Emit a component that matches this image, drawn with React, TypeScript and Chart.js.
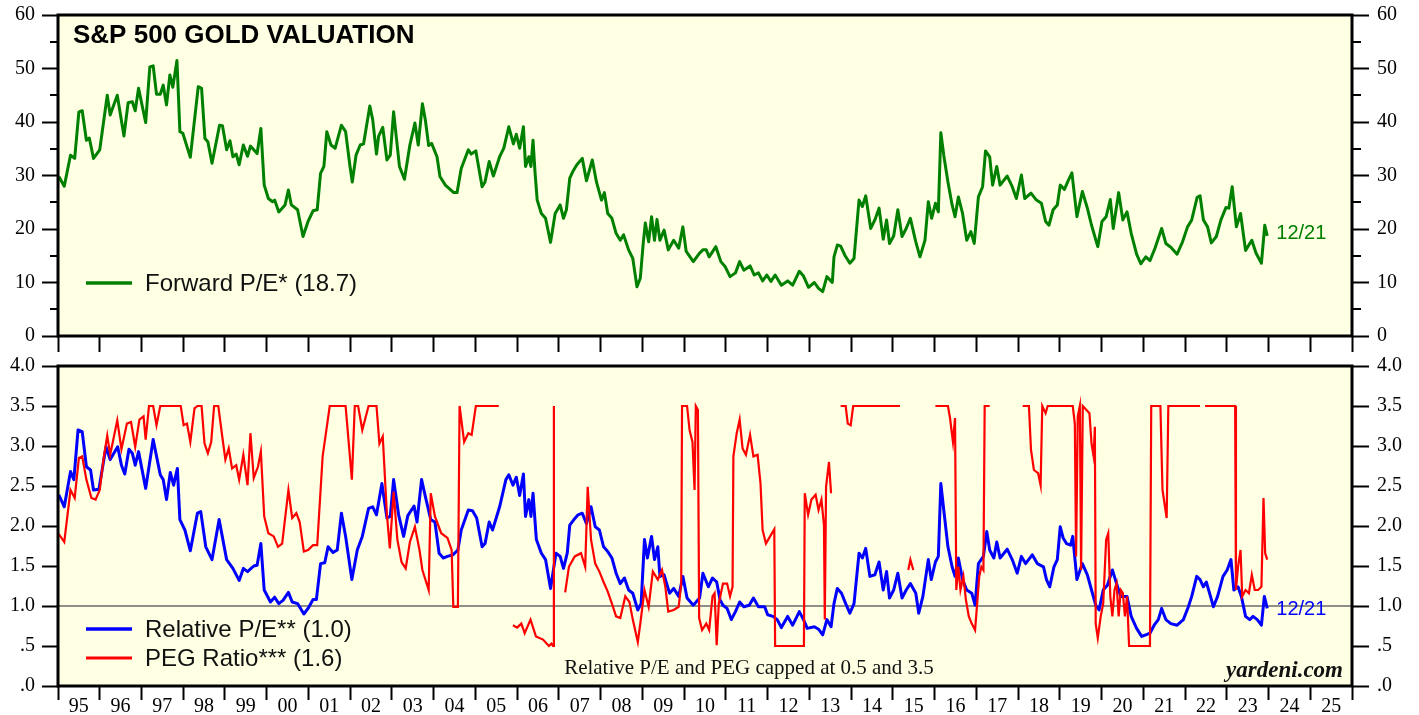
import React, { useEffect, useRef } from 'react';
import { Chart, registerables } from 'chart.js';

Chart.register(...registerables);

// ---------- DATA ----------
const yearLabels = ['95','96','97','98','99','00','01','02','03','04','05','06','07','08','09','10','11','12','13','14','15','16','17','18','19','20','21','22','23','24','25'];
const peTickLabels = ['0','10','20','30','40','50','60'];
const relTickLabels = ['.0','.5','1.0','1.5','2.0','2.5','3.0','3.5','4.0'];

const titleText = 'S&P 500 GOLD VALUATION';
const forwardLegend = 'Forward P/E* (18.7)';
const relativeLegend = 'Relative P/E** (1.0)';
const pegLegend = 'PEG Ratio*** (1.6)';
const noteText = 'Relative P/E and PEG capped at 0.5 and 3.5';
const sourceText = 'yardeni.com';
const lastDateLabel = '12/21';
const referenceLevel = 1.0;

const forwardPE: [number, number][] = [
[1995.02,29.8],[1995.15,28.0],[1995.30,33.8],[1995.40,33.2],[1995.50,41.9],[1995.58,42.1],[1995.68,36.6],[1995.75,37.0],[1995.85,33.2],[1996.00,34.8],
[1996.18,45.0],[1996.25,41.3],[1996.42,45.0],[1996.58,37.4],[1996.68,43.6],[1996.78,43.8],[1996.85,42.1],[1996.93,46.3],
[1997.10,39.9],[1997.20,50.3],[1997.28,50.5],[1997.36,45.2],[1997.45,45.2],[1997.52,46.9],[1997.60,43.2],[1997.68,48.8],[1997.75,46.5],[1997.85,51.5],[1997.92,38.2],[1997.99,37.9],
[1998.17,33.4],[1998.36,46.6],[1998.44,46.3],[1998.52,36.9],[1998.59,36.3],[1998.69,32.3],[1998.87,39.4],[1998.94,39.3],
[1999.04,34.8],[1999.12,36.5],[1999.19,33.5],[1999.27,34.0],[1999.34,32.0],[1999.44,35.7],[1999.54,33.6],[1999.61,35.5],[1999.77,34.1],[1999.86,38.8],[1999.94,28.2],
[2000.04,25.7],[2000.14,25.1],[2000.19,25.4],[2000.29,23.2],[2000.44,24.5],[2000.52,27.3],[2000.59,24.5],[2000.74,23.6],[2000.87,18.6],[2000.99,21.4],
[2001.11,23.4],[2001.21,23.6],[2001.29,30.4],[2001.37,31.7],[2001.44,38.2],[2001.54,35.7],[2001.64,35.1],[2001.79,39.4],[2001.89,38.2],[2001.99,32.0],
[2002.05,28.8],[2002.14,33.8],[2002.24,35.7],[2002.32,35.9],[2002.47,43.0],[2002.54,40.4],[2002.63,34.0],[2002.68,37.3],[2002.78,39.0],[2002.88,32.9],[2002.96,33.8],
[2003.04,41.9],[2003.18,31.7],[2003.30,29.3],[2003.43,35.7],[2003.55,39.8],[2003.63,35.7],[2003.73,43.4],[2003.80,40.4],[2003.88,35.6],[2003.95,36.0],
[2004.08,33.5],[2004.15,29.8],[2004.28,28.2],[2004.48,26.8],[2004.56,26.8],[2004.66,31.3],[2004.83,34.8],[2004.90,34.0],
[2005.01,34.6],[2005.16,27.9],[2005.23,28.8],[2005.33,32.6],[2005.43,29.9],[2005.58,33.5],[2005.68,35.1],[2005.80,39.1],[2005.91,35.9],[2005.98,37.7],
[2006.06,35.1],[2006.15,39.1],[2006.20,31.7],[2006.28,33.5],[2006.33,31.7],[2006.38,36.6],[2006.43,30.4],[2006.48,25.4],[2006.58,22.9],[2006.68,22.0],[2006.80,17.5],[2006.91,22.9],
[2007.03,24.5],[2007.11,22.0],[2007.18,23.6],[2007.26,29.5],[2007.33,30.7],[2007.43,32.0],[2007.56,33.2],[2007.66,29.0],[2007.80,32.9],[2007.90,28.8],
[2008.02,25.4],[2008.09,26.8],[2008.17,22.9],[2008.27,22.0],[2008.37,19.2],[2008.47,17.9],[2008.55,18.9],[2008.67,16.1],[2008.77,14.5],[2008.87,9.2],[2008.95,10.8],
[2009.02,17.3],[2009.07,21.1],[2009.15,17.6],[2009.22,22.3],[2009.29,17.9],[2009.35,21.8],[2009.42,17.9],[2009.52,19.8],[2009.62,16.1],[2009.75,17.9],[2009.87,16.4],[2009.97,20.4],
[2010.05,15.8],[2010.22,13.9],[2010.37,15.5],[2010.45,16.1],[2010.53,16.1],[2010.60,14.8],[2010.76,16.7],[2010.88,13.9],[2010.98,13.0],
[2011.10,11.1],[2011.23,11.8],[2011.33,13.9],[2011.43,12.3],[2011.58,13.1],[2011.68,11.4],[2011.78,11.8],[2011.88,10.3],[2011.98,11.4],
[2012.08,10.2],[2012.18,11.4],[2012.33,9.5],[2012.48,10.3],[2012.60,9.5],[2012.76,12.1],[2012.86,11.2],[2012.98,9.1],
[2013.12,10.0],[2013.22,8.9],[2013.32,8.3],[2013.42,11.1],[2013.55,10.0],[2013.59,14.8],[2013.67,17.0],[2013.75,16.8],[2013.85,15.1],[2013.97,13.6],
[2014.07,14.5],[2014.19,25.4],[2014.27,24.2],[2014.35,26.2],[2014.47,20.1],[2014.57,21.7],[2014.67,23.9],[2014.77,18.1],[2014.85,21.7],[2014.92,17.3],
[2015.02,18.7],[2015.12,23.6],[2015.22,18.6],[2015.32,20.1],[2015.42,22.0],[2015.55,17.6],[2015.65,14.8],[2015.77,17.9],[2015.85,25.1],[2015.93,22.0],
[2016.02,24.8],[2016.09,23.2],[2016.15,38.0],[2016.22,33.8],[2016.32,28.8],[2016.42,24.5],[2016.49,22.3],[2016.57,26.0],[2016.67,22.9],[2016.77,17.9],[2016.87,19.5],[2016.95,17.3],
[2017.05,26.0],[2017.15,27.9],[2017.22,34.6],[2017.32,33.5],[2017.39,28.2],[2017.49,31.7],[2017.57,28.2],[2017.74,29.9],[2017.86,27.9],[2017.96,25.7],
[2018.08,30.1],[2018.16,25.7],[2018.31,26.7],[2018.44,25.4],[2018.56,24.8],[2018.66,21.4],[2018.74,20.7],[2018.84,23.6],[2018.94,24.5],
[2019.01,28.2],[2019.11,27.4],[2019.21,29.2],[2019.29,30.5],[2019.41,22.3],[2019.54,27.0],[2019.66,23.9],[2019.76,20.7],[2019.91,16.7],
[2020.01,21.4],[2020.11,22.3],[2020.21,25.5],[2020.28,20.1],[2020.41,26.8],[2020.51,21.7],[2020.61,23.2],[2020.71,19.2],[2020.84,15.3],[2020.94,13.5],
[2021.06,14.8],[2021.16,14.1],[2021.28,16.4],[2021.44,20.1],[2021.54,17.3],[2021.66,16.6],[2021.81,15.3],[2021.94,17.6],
[2022.06,20.4],[2022.16,21.7],[2022.29,25.9],[2022.36,26.2],[2022.44,21.7],[2022.54,20.4],[2022.63,17.4],[2022.75,18.6],[2022.86,21.7],[2022.98,24.0],
[2023.05,23.9],[2023.13,27.9],[2023.23,20.4],[2023.33,22.9],[2023.45,16.0],[2023.60,17.9],[2023.70,15.5],[2023.83,13.6],[2023.91,20.7],[2023.97,18.7]
];

const relativePE: [number, number][] = [
[1995.02,2.39],[1995.15,2.24],[1995.30,2.68],[1995.38,2.58],[1995.48,3.20],[1995.58,3.18],[1995.68,2.74],[1995.78,2.70],[1995.85,2.45],[1995.98,2.46],
[1996.15,2.99],[1996.25,2.83],[1996.43,2.99],[1996.52,2.76],[1996.60,2.65],[1996.70,2.96],[1996.78,2.91],[1996.85,2.76],[1996.93,2.93],
[1997.10,2.47],[1997.28,3.08],[1997.45,2.64],[1997.52,2.58],[1997.60,2.33],[1997.69,2.67],[1997.77,2.51],[1997.86,2.72],[1997.92,2.08],
[1998.04,1.95],[1998.17,1.69],[1998.34,2.16],[1998.42,2.18],[1998.54,1.74],[1998.69,1.58],[1998.86,2.08],
[1999.04,1.58],[1999.19,1.47],[1999.34,1.32],[1999.44,1.47],[1999.54,1.43],[1999.69,1.50],[1999.77,1.51],[1999.86,1.78],[1999.94,1.20],
[2000.09,1.05],[2000.19,1.11],[2000.29,1.03],[2000.39,1.07],[2000.52,1.17],[2000.61,1.05],[2000.74,1.03],[2000.89,0.90],[2000.99,0.97],
[2001.11,1.08],[2001.19,1.08],[2001.29,1.53],[2001.39,1.54],[2001.47,1.74],[2001.59,1.67],[2001.69,1.70],[2001.79,2.16],[2001.89,1.87],
[2002.04,1.33],[2002.17,1.70],[2002.29,1.87],[2002.44,2.22],[2002.54,2.24],[2002.63,2.14],[2002.76,2.53],[2002.88,2.10],[2002.96,2.12],
[2003.04,2.58],[2003.16,2.14],[2003.28,1.87],[2003.38,2.13],[2003.53,2.25],[2003.60,2.05],[2003.71,2.58],[2003.80,2.37],[2003.93,2.08],
[2004.03,2.05],[2004.13,1.66],[2004.23,1.60],[2004.33,1.62],[2004.46,1.64],[2004.58,1.70],[2004.66,1.95],[2004.83,2.20],[2004.93,2.19],
[2005.03,2.10],[2005.16,1.74],[2005.23,1.78],[2005.33,2.05],[2005.41,1.95],[2005.58,2.24],[2005.73,2.58],[2005.80,2.64],[2005.90,2.51],[2005.98,2.61],
[2006.06,2.38],[2006.15,2.65],[2006.20,2.12],[2006.28,2.33],[2006.33,2.12],[2006.38,2.41],[2006.46,1.83],[2006.58,1.66],[2006.68,1.58],[2006.80,1.22],[2006.93,1.66],
[2007.03,1.62],[2007.11,1.47],[2007.20,1.66],[2007.26,2.01],[2007.36,2.08],[2007.46,2.14],[2007.56,2.16],[2007.66,2.03],[2007.77,2.24],[2007.87,1.99],[2007.97,1.95],
[2008.07,1.74],[2008.17,1.68],[2008.27,1.60],[2008.37,1.41],[2008.47,1.28],[2008.57,1.35],[2008.67,1.20],[2008.77,1.16],[2008.89,0.95],[2008.97,1.03],
[2009.05,1.83],[2009.12,1.60],[2009.22,1.87],[2009.29,1.58],[2009.37,1.74],[2009.42,1.37],[2009.52,1.39],[2009.65,1.16],[2009.75,1.22],[2009.87,1.12],[2009.97,1.37],
[2010.07,1.10],[2010.22,1.01],[2010.37,1.10],[2010.45,1.41],[2010.58,1.24],[2010.68,1.35],[2010.78,1.30],[2010.86,1.08],[2010.93,1.01],
[2011.03,0.97],[2011.13,0.83],[2011.23,0.93],[2011.33,1.05],[2011.43,0.99],[2011.56,1.01],[2011.66,1.10],[2011.78,0.99],[2011.93,0.99],
[2012.00,0.89],[2012.13,0.87],[2012.23,0.83],[2012.33,0.73],[2012.48,0.87],[2012.60,0.76],[2012.76,0.93],[2012.86,0.83],[2012.95,0.72],
[2013.12,0.74],[2013.22,0.71],[2013.32,0.64],[2013.42,0.83],[2013.52,0.74],[2013.59,1.03],[2013.67,1.22],[2013.77,1.16],[2013.87,1.03],[2013.97,0.91],
[2014.07,1.03],[2014.19,1.66],[2014.27,1.60],[2014.35,1.72],[2014.45,1.37],[2014.57,1.39],[2014.67,1.55],[2014.77,1.20],[2014.85,1.43],[2014.92,1.10],
[2015.02,1.20],[2015.12,1.41],[2015.22,1.10],[2015.32,1.20],[2015.42,1.28],[2015.55,1.16],[2015.62,0.91],[2015.72,1.12],[2015.85,1.58],[2015.92,1.33],
[2016.02,1.55],[2016.09,1.62],[2016.15,2.53],[2016.22,2.20],[2016.32,1.74],[2016.42,1.49],[2016.49,1.37],[2016.57,1.60],[2016.67,1.33],[2016.77,1.20],[2016.89,1.16],[2016.97,1.01],
[2017.05,1.53],[2017.17,1.62],[2017.25,1.93],[2017.32,1.70],[2017.42,1.60],[2017.49,1.80],[2017.57,1.60],[2017.74,1.71],[2017.86,1.58],[2017.98,1.41],
[2018.08,1.62],[2018.18,1.53],[2018.34,1.64],[2018.46,1.53],[2018.61,1.49],[2018.68,1.33],[2018.76,1.24],[2018.86,1.49],[2018.94,1.58],
[2019.01,1.99],[2019.08,1.85],[2019.16,1.78],[2019.26,1.76],[2019.31,1.87],[2019.41,1.33],[2019.54,1.53],[2019.66,1.39],[2019.76,1.20],[2019.86,1.01],[2019.94,0.95],
[2020.04,1.20],[2020.14,1.26],[2020.26,1.45],[2020.36,1.28],[2020.46,1.12],[2020.61,1.12],[2020.71,0.87],[2020.84,0.72],[2020.96,0.62],
[2021.06,0.64],[2021.16,0.66],[2021.26,0.76],[2021.36,0.83],[2021.44,0.97],[2021.54,0.83],[2021.66,0.78],[2021.81,0.76],[2021.96,0.83],
[2022.08,0.99],[2022.16,1.12],[2022.28,1.37],[2022.36,1.33],[2022.44,1.24],[2022.51,1.30],[2022.61,1.12],[2022.68,0.99],[2022.78,1.12],[2022.91,1.37],
[2023.01,1.45],[2023.10,1.58],[2023.17,1.20],[2023.27,1.24],[2023.35,1.12],[2023.45,0.87],[2023.55,0.83],[2023.63,0.87],[2023.73,0.83],[2023.83,0.76],[2023.90,1.12],[2023.97,0.97]
];

const pegRatio: [number, number | null][] = [
[1995.02,1.90],[1995.15,1.80],[1995.30,2.45],[1995.40,2.35],[1995.50,2.85],[1995.58,2.87],[1995.68,2.58],[1995.80,2.35],[1995.90,2.33],[1996.00,2.45],
[1996.10,2.87],[1996.18,3.13],[1996.25,2.89],[1996.42,3.32],[1996.52,2.96],[1996.65,3.28],[1996.75,3.30],[1996.85,2.99],[1996.95,3.33],
[1997.05,3.37],[1997.10,3.08],[1997.18,3.5],[1997.28,3.5],[1997.36,3.26],[1997.45,3.5],[1997.94,3.5],
[1998.01,3.26],[1998.09,3.28],[1998.17,3.05],[1998.27,3.47],[1998.34,3.5],[1998.44,3.5],[1998.51,3.03],[1998.59,2.91],[1998.67,3.05],[1998.74,3.5],[1998.84,3.5],[1998.94,3.10],
[1999.01,2.83],[1999.09,2.97],[1999.17,2.72],[1999.27,2.76],[1999.34,2.58],[1999.44,2.89],[1999.54,2.51],[1999.61,3.16],[1999.69,2.60],[1999.79,2.74],[1999.86,2.93],[1999.94,2.12],
[2000.04,1.91],[2000.17,1.87],[2000.27,1.74],[2000.37,1.78],[2000.52,2.45],[2000.61,2.10],[2000.71,2.16],[2000.79,2.05],[2000.89,1.68],[2000.99,1.70],
[2001.11,1.76],[2001.21,1.76],[2001.34,2.87],[2001.51,3.5],[2001.89,3.5],
[2002.04,2.58],[2002.11,3.5],[2002.19,3.5],[2002.29,3.20],[2002.44,3.5],[2002.63,3.5],[2002.70,3.03],[2002.78,3.12],[2002.88,2.14],[2002.95,1.72],
[2003.04,2.43],[2003.13,1.83],[2003.23,1.55],[2003.33,1.47],[2003.43,1.80],[2003.55,1.99],[2003.66,1.70],[2003.73,1.45],[2003.88,1.20],[2003.93,2.41],
[2004.03,2.12],[2004.08,2.05],[2004.18,1.91],[2004.33,1.85],[2004.43,1.70],[2004.47,0.99],[2004.58,0.99],[2004.62,3.5],[2004.73,3.05],[2004.83,3.16],[2004.91,3.14],
[2005.01,3.5],[2005.56,3.5],[2005.70,null],
[2005.90,0.76],[2006.00,0.73],[2006.10,0.78],[2006.18,0.66],[2006.32,0.83],[2006.45,0.62],[2006.62,0.58],[2006.76,0.5],[2006.82,0.53],[2006.86,0.5],[2006.88,3.5],[2006.95,null],
[2007.15,1.17],[2007.24,1.49],[2007.38,1.62],[2007.53,1.66],[2007.63,1.49],[2007.69,2.49],[2007.77,1.83],[2007.87,1.53],[2007.97,1.43],
[2008.07,1.30],[2008.17,1.18],[2008.27,1.03],[2008.37,0.87],[2008.47,0.85],[2008.59,1.12],[2008.69,1.05],[2008.77,0.83],[2008.89,0.55],[2008.95,0.78],
[2009.05,1.20],[2009.15,0.99],[2009.25,1.43],[2009.37,1.33],[2009.47,1.45],[2009.55,1.24],[2009.62,0.93],[2009.75,0.95],[2009.87,0.99],[2009.93,1.28],[2009.95,3.5],[2010.07,3.5],[2010.13,3.2],[2010.20,3.05],[2010.25,2.45],[2010.28,3.5],[2010.33,3.45],[2010.36,0.85],
[2010.43,0.70],[2010.53,0.78],[2010.60,0.70],[2010.68,1.12],[2010.73,1.16],[2010.78,0.51],[2010.83,1.03],[2010.93,1.28],[2011.03,1.28],[2011.10,1.12],[2011.16,1.24],[2011.18,2.87],[2011.26,3.16],[2011.33,3.33],[2011.40,2.97],[2011.48,2.89],[2011.58,3.14],[2011.66,2.87],[2011.76,2.89],[2011.83,2.53],[2011.88,1.95],[2011.96,1.78],
[2012.06,1.87],[2012.16,1.96],[2012.18,0.5],[2012.87,0.5],[2012.89,2.41],[2012.97,2.14],[2013.05,2.33],[2013.15,2.39],[2013.22,2.20],[2013.29,2.33],[2013.35,2.01],[2013.37,0.83],[2013.40,2.49],[2013.47,2.80],[2013.52,2.41],[2013.60,null],
[2013.75,3.5],[2013.87,3.5],[2013.92,3.28],[2013.99,3.26],[2014.05,3.5],[2015.17,3.5],[2015.25,null],
[2015.37,1.45],[2015.42,1.58],[2015.49,1.45],[2015.60,null],
[2016.02,3.5],[2016.32,3.5],[2016.37,3.35],[2016.44,3.05],[2016.49,3.35],[2016.52,1.20],[2016.57,1.49],[2016.62,1.20],[2016.69,1.37],[2016.75,1.08],[2016.82,0.87],[2016.89,0.78],[2016.97,0.70],[2017.02,1.03],[2017.07,1.37],[2017.12,1.49],[2017.17,1.45],[2017.20,3.5],[2017.32,3.5],[2017.50,null],
[2018.11,3.5],[2018.26,3.5],[2018.31,2.95],[2018.38,2.70],[2018.48,2.66],[2018.54,2.51],[2018.58,3.5],[2018.66,3.41],[2018.71,3.5],[2019.31,3.5],[2019.36,3.28],[2019.39,1.62],[2019.43,3.37],[2019.48,3.5],[2019.51,1.45],[2019.55,3.5],[2019.71,3.41],[2019.76,3.03],[2019.81,2.87],[2019.84,3.24],[2019.86,0.78],[2019.91,0.60],[2019.98,0.87],
[2020.04,1.03],[2020.11,1.83],[2020.16,1.91],[2020.21,1.12],[2020.26,0.87],[2020.31,1.20],[2020.36,1.28],[2020.41,0.87],[2020.46,1.20],[2020.51,1.16],[2020.56,0.87],[2020.61,1.12],[2020.66,0.5],[2021.16,0.5],[2021.19,3.5],[2021.41,3.5],[2021.46,2.45],[2021.56,2.10],[2021.60,3.5],[2022.36,3.5],[2022.42,null],[2022.48,3.5],[2023.20,3.5],
[2023.22,1.20],[2023.27,1.49],[2023.33,1.70],[2023.37,1.12],[2023.45,1.20],[2023.53,1.16],[2023.60,1.39],[2023.67,1.20],[2023.75,1.20],[2023.83,1.24],[2023.88,2.35],[2023.92,1.66],[2023.97,1.58]
];

// ---------- STYLE ----------
const GREEN = '#008000';
const BLUE = '#0000ff';
const RED = '#ff0000';
const PANEL_BG = '#ffffe3';
const SERIF = '"Liberation Serif", "Times New Roman", serif';
const SANS = '"Liberation Sans", Arial, sans-serif';
const X_MIN = 1995;
const X_MAX = 2026;

const toXY = (arr: [number, number | null][]) => arr.map(([x, y]) => ({ x, y }));

const clearPadding = (scale: any) => {
  scale.paddingTop = 0;
  scale.paddingBottom = 0;
  scale.paddingLeft = 0;
  scale.paddingRight = 0;
};

function xAxis(showLabels: boolean, tickLength: number, height: number) {
  return {
    type: 'linear',
    position: 'bottom',
    min: X_MIN,
    max: X_MAX,
    afterBuildTicks: (scale: any) => {
      const t: any[] = [];
      for (let i = 0; i <= (X_MAX - X_MIN) * 2; i++) t.push({ value: X_MIN + i / 2 });
      scale.ticks = t;
    },
    grid: {
      display: true,
      drawOnChartArea: false,
      drawTicks: true,
      tickLength,
      tickWidth: 2,
      tickColor: (c: any) => (c.tick && Number.isInteger(c.tick.value) ? '#000' : 'rgba(0,0,0,0)'),
    },
    border: { display: false },
    ticks: {
      display: showLabels,
      autoSkip: false,
      maxRotation: 0,
      minRotation: 0,
      padding: -5,
      color: '#000',
      font: { family: SERIF, size: 20 },
      callback: (v: number) => (Number.isInteger(v) ? '' : yearLabels[Math.floor(v) - X_MIN] || ''),
    },
    afterFit: (scale: any) => { scale.height = height; clearPadding(scale); },
  };
}

function yAxis(position: 'left' | 'right', min: number, max: number, step: number, label: (v: number) => string, isMajor: (v: number) => boolean) {
  const left = position === 'left';
  return {
    type: 'linear',
    position,
    min,
    max,
    afterBuildTicks: (scale: any) => {
      const t: any[] = [];
      const n = Math.round((max - min) / step);
      for (let i = 0; i <= n; i++) t.push({ value: min + i * step });
      scale.ticks = t;
    },
    grid: {
      display: true,
      drawOnChartArea: false,
      drawTicks: true,
      tickLength: left ? 16 : 17,
      tickWidth: 2,
      tickColor: (c: any) => (c.tick && isMajor(c.tick.value) ? '#000' : 'rgba(0,0,0,0)'),
    },
    border: { display: false },
    ticks: {
      padding: left ? 7 : 8,
      color: '#000',
      autoSkip: false,
      font: { family: SERIF, size: 20 },
      callback: (v: number) => label(v),
    },
    afterFit: (scale: any) => { scale.width = left ? 58 : 67; clearPadding(scale); },
  };
}

function framePlugin(minorValues: number[], drawText: (chart: any, ctx: CanvasRenderingContext2D) => void) {
  return {
    id: 'frame',
    beforeDraw(chart: any) {
      const { ctx, chartArea: a } = chart;
      ctx.save();
      ctx.fillStyle = PANEL_BG;
      ctx.fillRect(a.left, a.top, a.right - a.left, a.bottom - a.top);
      ctx.restore();
    },
    afterDraw(chart: any) {
      const { ctx, chartArea: a } = chart;
      const ys = chart.scales.y;
      ctx.save();
      ctx.strokeStyle = '#000';
      ctx.lineWidth = 2;
      ctx.beginPath();
      minorValues.forEach((v) => {
        const py = Math.round(ys.getPixelForValue(v));
        ctx.moveTo(a.left - 8, py); ctx.lineTo(a.left, py);
        ctx.moveTo(a.right, py); ctx.lineTo(a.right + 9, py);
      });
      ctx.stroke();
      ctx.lineWidth = 3;
      ctx.strokeRect(a.left, a.top, a.right - a.left, a.bottom - a.top);
      ctx.restore();
      ctx.save();
      drawText(chart, ctx);
      ctx.restore();
    },
  };
}

function legendItem(ctx: CanvasRenderingContext2D, a: any, y: number, color: string, width: number, text: string) {
  ctx.strokeStyle = color;
  ctx.lineWidth = width;
  ctx.beginPath();
  ctx.moveTo(a.left + 28, y);
  ctx.lineTo(a.left + 74, y);
  ctx.stroke();
  ctx.fillStyle = '#111';
  ctx.font = `24px ${SANS}`;
  ctx.textAlign = 'left';
  ctx.textBaseline = 'middle';
  ctx.fillText(text, a.left + 87, y + 1);
}

export default function App() {
  const topRef = useRef<HTMLCanvasElement>(null);
  const botRef = useRef<HTMLCanvasElement>(null);

  useEffect(() => {
    const lastPE = forwardPE[forwardPE.length - 1];
    const lastRel = relativePE[relativePE.length - 1];

    const topChart = new Chart(topRef.current as HTMLCanvasElement, {
      type: 'line',
      data: {
        datasets: [
          {
            label: forwardLegend,
            data: toXY(forwardPE),
            borderColor: GREEN,
            borderWidth: 3,
            pointRadius: 0,
            tension: 0,
            borderJoinStyle: 'round',
          },
        ],
      },
      options: {
        animation: false,
        responsive: false,
        devicePixelRatio: 1,
        layout: { autoPadding: false, padding: { top: 15, left: 0, right: 0, bottom: 0 } },
        plugins: { legend: { display: false }, tooltip: { enabled: false } },
        scales: {
          x: xAxis(false, 16, 24),
          y: yAxis('left', 0, 60, 5, (v) => (v % 10 === 0 ? peTickLabels[v / 10] : ''), (v) => v % 10 === 0),
          y2: yAxis('right', 0, 60, 5, (v) => (v % 10 === 0 ? peTickLabels[v / 10] : ''), (v) => v % 10 === 0),
        },
      } as any,
      plugins: [
        framePlugin([5, 15, 25, 35, 45, 55], (chart, ctx) => {
          const a = chart.chartArea;
          ctx.fillStyle = '#000';
          ctx.font = `bold 26px ${SANS}`;
          ctx.textAlign = 'left';
          ctx.textBaseline = 'alphabetic';
          ctx.fillText(titleText, a.left + 15, a.top + 28);
          legendItem(ctx, a, a.bottom - 53, GREEN, 3.5, forwardLegend);
          const px = chart.scales.x.getPixelForValue(lastPE[0]);
          const py = chart.scales.y.getPixelForValue(lastPE[1]);
          ctx.fillStyle = GREEN;
          ctx.font = `20px ${SANS}`;
          ctx.textBaseline = 'middle';
          ctx.fillText(lastDateLabel, px + 9, py - 2);
        }),
      ] as any,
    } as any);

    const botChart = new Chart(botRef.current as HTMLCanvasElement, {
      type: 'line',
      data: {
        datasets: [
          {
            label: pegLegend,
            data: toXY(pegRatio),
            borderColor: RED,
            borderWidth: 2.2,
            pointRadius: 0,
            tension: 0,
            spanGaps: false,
          },
          {
            label: relativeLegend,
            data: toXY(relativePE),
            borderColor: BLUE,
            borderWidth: 3,
            pointRadius: 0,
            tension: 0,
            borderJoinStyle: 'round',
          },
          {
            label: 'ref',
            data: [{ x: X_MIN, y: referenceLevel }, { x: X_MAX, y: referenceLevel }],
            borderColor: '#6a6a6a',
            borderWidth: 1.5,
            pointRadius: 0,
          },
        ],
      },
      options: {
        animation: false,
        responsive: false,
        devicePixelRatio: 1,
        layout: { autoPadding: false, padding: { top: 16, left: 0, right: 0, bottom: 0 } },
        plugins: { legend: { display: false }, tooltip: { enabled: false } },
        scales: {
          x: xAxis(true, 14, 29),
          y: yAxis('left', 0, 4, 0.5, (v) => relTickLabels[Math.round(v * 2)] || '', () => true),
          y2: yAxis('right', 0, 4, 0.5, (v) => relTickLabels[Math.round(v * 2)] || '', () => true),
        },
      } as any,
      plugins: [
        framePlugin([], (chart, ctx) => {
          const a = chart.chartArea;
          legendItem(ctx, a, a.bottom - 57, BLUE, 3.5, relativeLegend);
          legendItem(ctx, a, a.bottom - 28, RED, 3, pegLegend);
          ctx.fillStyle = '#111';
          ctx.font = `21px ${SERIF}`;
          ctx.textAlign = 'center';
          ctx.textBaseline = 'middle';
          ctx.fillText(noteText, a.left + 691, a.bottom - 18);
          ctx.font = `italic bold 23px ${SERIF}`;
          ctx.textAlign = 'right';
          ctx.fillText(sourceText, a.right - 9, a.bottom - 15);
          const px = chart.scales.x.getPixelForValue(lastRel[0]);
          const py = chart.scales.y.getPixelForValue(lastRel[1]);
          ctx.fillStyle = BLUE;
          ctx.font = `20px ${SANS}`;
          ctx.textAlign = 'left';
          ctx.fillText(lastDateLabel, px + 9, py + 1);
        }),
      ] as any,
    } as any);

    return () => {
      topChart.destroy();
      botChart.destroy();
    };
  }, []);

  return (
    <div style={{ position: 'fixed', left: 0, top: 0, width: 1419, height: 715, background: '#fff', overflow: 'hidden' }}>
      <canvas ref={topRef} width={1419} height={360} style={{ position: 'absolute', left: 0, top: 0 }} />
      <canvas ref={botRef} width={1419} height={365} style={{ position: 'absolute', left: 0, top: 350 }} />
    </div>
  );
}
